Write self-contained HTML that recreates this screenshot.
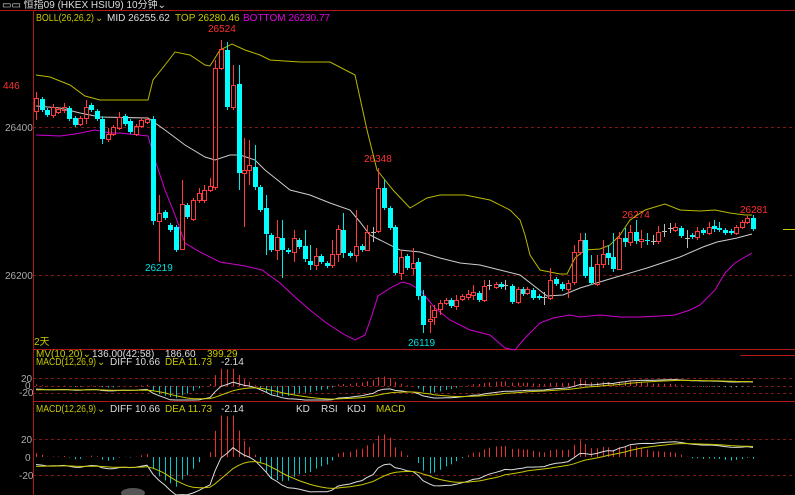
<!DOCTYPE html>
<html><head><meta charset="utf-8"><style>
html,body{margin:0;padding:0;background:#000;width:795px;height:495px;overflow:hidden}
svg{display:block}
text{font-family:"Liberation Sans","Noto Sans CJK SC",sans-serif;font-size:10px}
</style></head><body>
<svg id="s" width="795" height="495" xmlns="http://www.w3.org/2000/svg">
<rect width="795" height="495" fill="#000"/>
<text x="2" y="8" fill="#ddd" font-size="10">▭▭ 恒指09  (HKEX HSIU9)  10分钟⌄</text>
<line x1="0" y1="10.5" x2="795" y2="10.5" stroke="#b01818"/>
<line x1="33.5" y1="10" x2="33.5" y2="495" stroke="#b01818"/>
<line x1="33" y1="349.5" x2="795" y2="349.5" stroke="#b01818"/>
<line x1="33" y1="401.5" x2="795" y2="401.5" stroke="#b01818"/>
<line x1="33" y1="127.5" x2="795" y2="127.5" stroke="#801818" stroke-dasharray="3,3"/>
<line x1="33" y1="275.5" x2="795" y2="275.5" stroke="#801818" stroke-dasharray="3,3"/>
<text x="36" y="21" fill="#c8c800" textLength="58" lengthAdjust="spacingAndGlyphs">BOLL(26,26,2)</text><text x="95" y="21" fill="#c8c800">⌄</text>
<text x="107" y="21" fill="#ddd">MID 26255.62</text>
<text x="175" y="21" fill="#c8c800">TOP 26280.46</text>
<text x="243" y="21" fill="#e000e0">BOTTOM 26230.77</text>
<text x="5" y="131" fill="#aaa">26400</text>
<text x="5" y="279" fill="#aaa">26200</text>
<text x="3" y="89" fill="#ff3030">446</text>
<text x="208" y="32" fill="#ff3030">26524</text>
<text x="145" y="271" fill="#00e0e0">26219</text>
<text x="364" y="162" fill="#ff3030">26348</text>
<text x="408" y="346" fill="#00e0e0">26119</text>
<text x="622" y="218" fill="#ff3030">26274</text>
<text x="740" y="213" fill="#ff3030">26281</text>
<text x="34" y="345" fill="#c8c800">2天</text>
<line x1="783" y1="229.5" x2="795" y2="229.5" stroke="#c8c800"/>
<line x1="740" y1="355.5" x2="795" y2="355.5" stroke="#b01818"/>
<text x="36" y="357" fill="#c8c800">MV(10,20)⌄</text><text x="92" y="357" fill="#ddd">136.00(42:58)</text><text x="165" y="357" fill="#ddd">186.60</text><text x="207" y="357" fill="#c8c800">399.29</text>
<text x="36" y="365" fill="#c8c800" textLength="60" lengthAdjust="spacingAndGlyphs">MACD(12,26,9)</text><text x="97" y="365" fill="#c8c800">⌄</text><text x="110" y="365" fill="#ddd">DIFF 10.66</text><text x="165" y="365" fill="#c8c800">DEA 11.73</text><text x="221" y="365" fill="#ddd">-2.14</text>
<text x="21" y="382" fill="#aaa">20</text><text x="25" y="389" fill="#aaa">0</text><text x="19" y="396" fill="#aaa">-20</text>
<line x1="33" y1="378.5" x2="795" y2="378.5" stroke="#801818" stroke-dasharray="3,3"/>
<line x1="33" y1="386.5" x2="795" y2="386.5" stroke="#801818" stroke-dasharray="3,3"/>
<line x1="33" y1="393.5" x2="795" y2="393.5" stroke="#801818" stroke-dasharray="3,3"/>
<text x="36" y="412" fill="#c8c800" textLength="60" lengthAdjust="spacingAndGlyphs">MACD(12,26,9)</text><text x="97" y="412" fill="#c8c800">⌄</text><text x="110" y="412" fill="#ddd">DIFF 10.66</text><text x="165" y="412" fill="#c8c800">DEA 11.73</text><text x="221" y="412" fill="#ddd">-2.14</text>
<text x="296" y="412" fill="#ddd">KD</text><text x="321" y="412" fill="#ddd">RSI</text><text x="347" y="412" fill="#ddd">KDJ</text><text x="376" y="412" fill="#c8c800">MACD</text>
<text x="21" y="443" fill="#aaa">20</text><text x="25" y="461" fill="#aaa">0</text><text x="19" y="479" fill="#aaa">-20</text>
<line x1="33" y1="439.5" x2="795" y2="439.5" stroke="#801818" stroke-dasharray="3,3"/>
<line x1="33" y1="475.5" x2="795" y2="475.5" stroke="#801818" stroke-dasharray="3,3"/>
<ellipse cx="133" cy="493" rx="12" ry="5" fill="#555"/>
<g id="g"></g>
</svg>
<script>
var D=[[36,111,98,92,120],[42,99,110,97,112],[47,110,115],[53,115,107,104,118],[58,112,109],[64,110,107,103,113],[69,108,119],[75,118,125],[80,124,118],[86,118,107,100,124],[91,105,110],[97,111,119],[102,119,139,116,144],[108,139,134,128,142],[113,134,127],[119,128,117,112,130],[125,116,124],[130,121,132],[136,134,126],[141,126,120,117,128],[147,122,119],[153,119,221,116,225],[159,221,213,195,262],[165,212,218],[170,225,230],[176,227,250,225,252],[182,249,204,180,250],[187,205,217],[193,219,200],[199,200,193,188,203],[204,200,190,185,203],[210,190,186,178,192],[215,187,68,60,190],[221,68,49,40,70],[227,50,107,42,110],[233,107,85,65,110],[239,84,173,65,190],[244,173,170,138,227],[249,170,165,140,185],[255,167,187,145,190],[260,187,210],[266,208,234,195,255],[271,235,250],[277,250,237,220,260],[282,238,250,220,278],[288,250,252],[294,252,238,230,262],[299,240,247],[305,246,259,230,262],[310,261,265,245,270],[316,265,256,248,270],[321,256,262],[327,263,266],[332,265,254,240,268],[338,254,229,225,262],[343,230,253,213,258],[350,253,256],[356,255,246,210,262],[362,246,250],[367,250,232,225,250],[373,232,232,227,242],[378,231,188,168,233],[384,188,208,180,210],[390,208,228],[395,227,273,225,275],[401,273,257,250,280],[407,256,268],[413,268,263,248,275],[418,262,296,258,300],[423,296,325,290,333],[430,321,319,305,333],[434,317,310,305,325],[440,309,303,300,315],[446,303,300],[451,300,306],[456,306,300,295,310],[462,299,296],[468,297,294,290,300],[473,295,292,285,300],[479,293,300],[484,300,286,280,302],[489,285,285,280,290],[496,287,284],[501,284,287],[505,285,285,280,290],[512,286,302],[518,302,289],[523,289,294],[527,293,289],[533,290,298],[539,296,298],[544,297,297,292,305],[550,298,280,268,300],[556,279,284],[562,284,289],[568,289,283,280,298],[574,282,252,245,285],[580,252,240,233,255],[585,240,276,233,278],[591,267,283,255,285],[597,284,264,255,286],[603,264,254,240,268],[608,253,258,245,265],[613,257,269,233,272],[619,269,238,232,270],[625,238,242,228,247],[630,242,232,225,246],[636,232,241,220,244],[641,241,239,230,248],[647,240,241,233,245],[653,241,241,235,245],[658,241,232,226,244],[664,231,231,224,237],[670,228,228,223,233],[675,230,227,223,232],[681,228,236],[687,238,238,230,248],[692,235,237],[697,237,231,227,240],[703,230,233],[709,233,227,222,235],[714,226,229,220,232],[719,228,230,222,232],[725,230,233],[731,231,233],[736,233,227],[742,227,222],[747,222,218],[753,218,229,215,231]];
var up="36,75 50,77 70,85 85,96 100,100 148,100 153,80 165,65 175,52 190,55 205,65 210,66 220,50 232,44 245,50 260,55 270,60 300,62 330,62 355,75 367,130 377,170 393,190 410,208 427,198 440,195 465,195 490,200 510,210 520,220 525,235 530,255 540,270 560,274 567,274 575,258 585,250 600,249 610,245 620,235 630,220 645,210 665,204 680,210 700,211 715,210 730,213 745,215 752,215";
var mid="36,106 60,108 80,113 100,117 148,118 165,130 185,145 205,157 215,160 230,155 240,155 255,160 265,170 275,178 290,190 310,195 330,203 350,210 360,222 370,235 380,240 400,250 420,252 440,258 460,263 480,265 500,270 520,275 547,296 563,295 580,288 613,278 647,268 680,257 703,247 717,242 737,238 752,234";
var lo="36,135 60,136 75,134 95,130 110,133 120,133 148,136 155,160 165,190 175,215 185,243 200,252 220,262 245,266 262,270 280,283 295,297 310,310 325,322 345,335 355,340 365,335 372,315 378,296 392,287 402,282 410,284 420,290 435,308 450,320 470,330 490,335 505,348 515,350 525,338 540,323 553,318 570,315 580,317 600,315 620,317 640,317 660,316 675,315 690,310 700,305 715,290 725,273 735,263 745,257 752,253";
var h='';
h+='<polyline points="'+up+'" fill="none" stroke="#b8b800"/>';
h+='<polyline points="'+mid+'" fill="none" stroke="#ccc"/>';
h+='<polyline points="'+lo+'" fill="none" stroke="#d000d0"/>';
D.forEach(function(d){var x=d[0],o=d[1],c=d[2],hi=d.length>3?d[3]:Math.min(o,c)-2,l=d.length>3?d[4]:Math.max(o,c)+2;
var t=Math.min(o,c),b=Math.max(o,c);
if(o==c){h+='<line x1="'+(x+.5)+'" y1="'+hi+'" x2="'+(x+.5)+'" y2="'+l+'" stroke="#bbb"/><line x1="'+(x-2)+'" y1="'+(o+.5)+'" x2="'+(x+3)+'" y2="'+(o+.5)+'" stroke="#bbb"/>';return;}
if(c<o){h+='<line x1="'+(x+.5)+'" y1="'+hi+'" x2="'+(x+.5)+'" y2="'+t+'" stroke="#ff3b3b"/><line x1="'+(x+.5)+'" y1="'+b+'" x2="'+(x+.5)+'" y2="'+l+'" stroke="#ff3b3b"/><rect x="'+(x-1.5)+'" y="'+(t+.5)+'" width="4" height="'+Math.max(1,b-t)+'" fill="none" stroke="#ff3b3b"/>';}
else{h+='<line x1="'+(x+.5)+'" y1="'+hi+'" x2="'+(x+.5)+'" y2="'+l+'" stroke="#00e8e8"/><rect x="'+(x-2)+'" y="'+t+'" width="5" height="'+Math.max(1,b-t)+'" fill="#00ffff"/>';}
});
var c0=26400-(D[0][2]-127)/0.74,e12=c0,e26=c0+9,dea=-11,pts=[];
D.forEach(function(d){var p=26400-(d[2]-127)/0.74;e12+=(p-e12)*2/13;e26+=(p-e26)*2/27;var df=e12-e26;dea+=(df-dea)*0.2;pts.push([d[0],df,dea,2*(df-dea)]);});
function panel(z,k,top,bot){var s='',a=[],b=[];
pts.forEach(function(q){var hy=z-q[3]*k;hy=Math.max(top,Math.min(bot,hy));
s+='<line x1="'+(q[0]+.5)+'" y1="'+z+'" x2="'+(q[0]+.5)+'" y2="'+hy.toFixed(1)+'" stroke="'+(q[3]>0?'#e83030':'#00c8c8')+'"/>';
a.push(q[0]+','+Math.max(top,Math.min(bot,z-q[1]*k)).toFixed(1));b.push(q[0]+','+Math.max(top,Math.min(bot,z-q[2]*k)).toFixed(1));});
s+='<polyline points="'+a.join(' ')+'" fill="none" stroke="#ddd"/><polyline points="'+b.join(' ')+'" fill="none" stroke="#c8c800"/>';return s;}
h+=panel(457,0.9,414,495);
h+=panel(386,0.375,366,400);
document.getElementById('g').innerHTML=h;
</script>
</body></html>
